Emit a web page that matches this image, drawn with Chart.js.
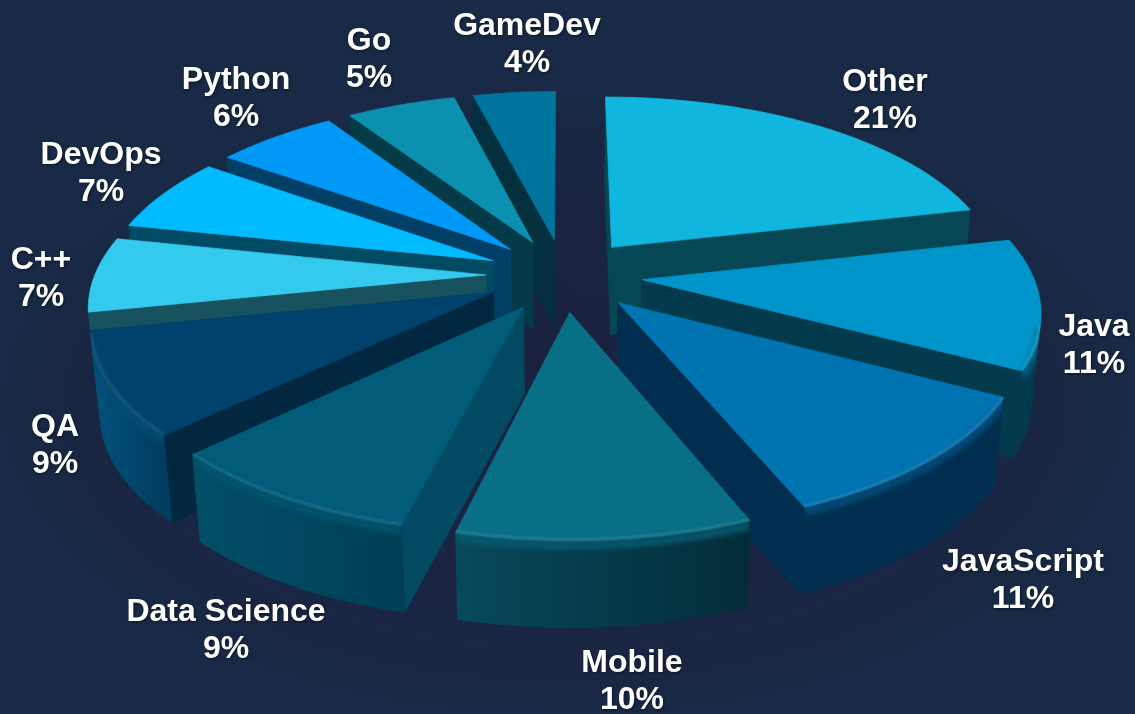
<!DOCTYPE html>
<html><head><meta charset="utf-8">
<script src="https://cdn.jsdelivr.net/npm/chart.js@4"></script>
<style>html,body{margin:0;padding:0;background:#182a45;overflow:hidden}canvas{display:block}</style>
</head><body><canvas id="c" width="1135" height="714"></canvas>
<script>
const categories = ["Other","Java","JavaScript","Mobile","Data Science","QA","C++","DevOps","Python","Go","GameDev"];
const shares = [21.4,11.3,11.1,10.1,9.0,8.9,6.5,6.5,5.9,5.3,4.0];
const topColors = ["#10b6dd","#0095ca","#0073b1","#086f87","#005c78","#00426b","#33caee","#00bbff","#0099f7","#0c90b0","#00749c"];
const sideStart = ["#064755","#033a4e","#012e4e","#07495c","#024f68","#02527c","#18525f","#004a64","#003f66","#053a48","#042f3f"];
const sideEnd   = ["#064755","#033a4e","#012e4e","#032d38","#003f55","#013d60","#18525f","#004a64","#003f66","#053a48","#042f3f"];
const radialWall= ["#064755","#033a4e","#012e4e","#044150","#014a62","#012840","#18525f","#004a64","#003f66","#053a48","#042f3f"];
const labelPos = [[885,82],[1094,327],[1023,562],[632,663],[226,612],[55,427],[41,260],[101,155],[236,80],[369,41],[527,26]];

const VIEW = {cx:564, cy:275, rx:391, ry:181, persp:0.152, depth:87, baseShrink:0.98, explode:0.2};
function hex(c){return [1,3,5].map(i=>parseInt(c.substr(i,2),16));}
function mix(a,b,t){const A=hex(a),B=hex(b);return `rgb(${A.map((v,i)=>Math.round(v+(B[i]-v)*t)).join(",")})`;}
function project(px,py,low){
  const s=1/(1-VIEW.persp*py);
  let X=VIEW.cx+VIEW.rx*px*s, Y=VIEW.cy+VIEW.ry*py*s;
  if(low){X=VIEW.cx+(X-VIEW.cx)*VIEW.baseShrink; Y+=VIEW.depth;}
  return [X,Y];
}
function area(q){let a=0;for(let i=0;i<q.length;i++){const p=q[i],n=q[(i+1)%q.length];a+=p[0]*n[1]-n[0]*p[1];}return a/2;}
function poly(ctx,q){ctx.beginPath();q.forEach((p,i)=>i?ctx.lineTo(p[0],p[1]):ctx.moveTo(p[0],p[1]));ctx.closePath();}
function fillQ(ctx,q,col){poly(ctx,q);ctx.fillStyle=col;ctx.strokeStyle=col;ctx.lineWidth=0.7;ctx.fill();ctx.stroke();}

const pie3d={id:'pie3d',
 beforeDatasetsDraw(chart){
  const ctx=chart.ctx, arcs=chart.getDatasetMeta(0).data;
  ctx.save();
  ctx.translate(VIEW.cx,VIEW.cy+130);ctx.scale(1,.55);
  const g=ctx.createRadialGradient(0,0,200,0,0,560);
  g.addColorStop(0,'rgba(30,30,62,.6)');g.addColorStop(.8,'rgba(30,30,62,.28)');g.addColorStop(1,'rgba(30,30,62,0)');
  ctx.fillStyle=g;ctx.beginPath();ctx.arc(0,0,560,0,7);ctx.fill();ctx.restore();

  const order=arcs.map((a,i)=>i).sort((p,q)=>Math.sin((arcs[p].startAngle+arcs[p].endAngle)/2)-Math.sin((arcs[q].startAngle+arcs[q].endAngle)/2));
  order.forEach(i=>{
   const a=arcs[i], mid=(a.startAngle+a.endAngle)/2;
   const ox=Math.cos(mid)*VIEW.explode, oy=Math.sin(mid)*VIEW.explode;
   const N=Math.max(8,Math.ceil((a.endAngle-a.startAngle)*40));
   const rim=[];
   for(let k=0;k<=N;k++){const t=a.startAngle+(a.endAngle-a.startAngle)*k/N;rim.push([ox+Math.cos(t),oy+Math.sin(t)]);}
   const apex=[ox,oy];
   const up=p=>project(p[0],p[1],false), lo=p=>project(p[0],p[1],true);
   const topPoly=[up(apex),...rim.map(up)];
   const sign=-Math.sign(area(topPoly));
   [[apex,rim[0]],[rim[N],apex]].forEach(e=>{
     const q=[up(e[0]),up(e[1]),lo(e[1]),lo(e[0])];
     if(Math.sign(area(q))===sign) fillQ(ctx,q,radialWall[i]);
   });
   const front=[];
   for(let k=0;k<N;k++){
     const q=[up(rim[k]),up(rim[k+1]),lo(rim[k+1]),lo(rim[k])];
     if(Math.sign(area(q))===sign) front.push(k);
   }
   let wall=null,pts=null;
   if(front.length){
     const seg=[...front,front[front.length-1]+1].map(k=>rim[k]);
     pts=seg.map(up);
     wall=[...pts,...seg.map(lo).reverse()];
     const x0=pts[0][0],x1=pts[pts.length-1][0];
     const lg=ctx.createLinearGradient(x0,0,x1,0);
     lg.addColorStop(0,sideEnd[i]);lg.addColorStop(1,sideStart[i]);
     fillQ(ctx,wall,lg);
   }
   fillQ(ctx,topPoly,topColors[i]);
   if(pts&&pts.length>2){
     ctx.save();
     ctx.beginPath();
     [topPoly,wall].forEach(q=>{q.forEach((p,j)=>j?ctx.lineTo(p[0],p[1]):ctx.moveTo(p[0],p[1]));ctx.closePath();});
     ctx.clip('nonzero');
     const line=(dy,w,col,blur)=>{
       ctx.save();
       ctx.filter=blur?`blur(${blur}px)`:'none';
       ctx.beginPath();pts.forEach((p,j)=>j?ctx.lineTo(p[0],p[1]+dy):ctx.moveTo(p[0],p[1]+dy));
       ctx.lineWidth=w;ctx.strokeStyle=col;ctx.lineCap='butt';ctx.stroke();ctx.restore();
     };
     line(5,8,mix(topColors[i],sideStart[i],.6),2.5);
     line(-1,3,mix(topColors[i],'#ffffff',.1),1.2);
     ctx.restore();
   }
  });
  return false;
 },
 afterDraw(chart){
  const ctx=chart.ctx, vals=chart.data.datasets[0].data;
  ctx.save();
  ctx.font='bold 32px "Liberation Sans", Arial, sans-serif';
  ctx.textAlign='center';ctx.textBaseline='middle';ctx.fillStyle='#ffffff';
  ctx.shadowColor='rgba(0,0,0,.45)';ctx.shadowBlur=3;ctx.shadowOffsetX=1;ctx.shadowOffsetY=1;
  chart.data.labels.forEach((l,i)=>{
    const p=labelPos[i];
    ctx.fillText(l,p[0],p[1]);
    ctx.fillText(Math.round(vals[i])+'%',p[0],p[1]+37);
  });
  ctx.restore();
 }
};
new Chart(document.getElementById('c'),{
 type:'pie',
 data:{labels:categories,datasets:[{data:shares,backgroundColor:topColors,borderWidth:0}]},
 options:{responsive:false,animation:false,events:[],plugins:{legend:{display:false},tooltip:{enabled:false}}},
 plugins:[pie3d]
});
</script></body></html>
